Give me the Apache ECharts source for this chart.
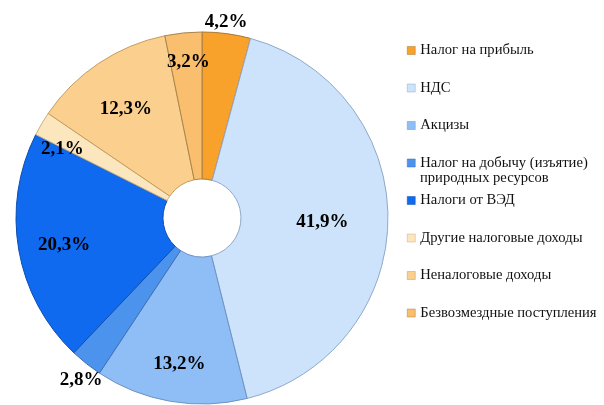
<!DOCTYPE html>
<html>
<head>
<meta charset="utf-8">
<script src="https://cdn.jsdelivr.net/npm/echarts@6/dist/echarts.min.js"></script>
<style>
    html, body { margin: 0; padding: 0; background: #fff; }
    #chart { width: 604px; height: 405px; }
</style>
</head>
<body>
<div id="chart"></div>
<script>
var categories = ['Налог на прибыль', 'НДС', 'Акцизы', 'Налог на добычу (изъятие)',
    'Налоги от ВЭД', 'Другие налоговые доходы', 'Неналоговые доходы', 'Безвозмездные поступления'];
var shares = [4.2, 41.9, 13.2, 2.8, 20.3, 2.1, 12.3, 3.2];
var sliceColors = ['#F8A12B', '#CCE3FB', '#8FBEF7', '#4C93EE', '#0F6AF0', '#FCE6BE', '#FBCF8E', '#F9BE6E'];
var borderColors = ['#A9762F', '#8FA8C8', '#6F92C2', '#3D6FB5', '#0B4EB0', '#C9AE82', '#C49B5C', '#A8844E'];
// label shifts from the default inside position
var labelShift = [[9, -81], [5, 3], [-3, 32], [-49, 72], [-24, 7], [-40, -10], [-12, -13], [-2, -41]];

var myChart = echarts.init(document.getElementById('chart'));

var pieData = [];
for (var i = 0; i < categories.length; i++) {
    pieData.push({
        name: categories[i],
        value: shares[i],
        itemStyle: {
            color: sliceColors[i],
            borderColor: borderColors[i]
        },
        label: {offset: labelShift[i]}
    });
}

var option = {
    animation: false,
    legend: {
        orient: 'vertical',
        left: 407,
        top: 43,
        padding: 0,
        itemWidth: 8,
        itemHeight: 8,
        itemGap: 22.5,
        icon: 'rect',
        data: categories.map(function (c, i) {
            return {name: c, itemStyle: {color: sliceColors[i], borderColor: borderColors[i], borderWidth: 0.5}};
        }),
        textStyle: {
            fontFamily: 'Liberation Serif',
            fontSize: 14.6,
            lineHeight: 15,
            color: '#111'
        }
    },
    graphic: [{
        type: 'text',
        left: 420,
        top: 171,
        style: {
            text: 'природных ресурсов',
            font: '14.6px "Liberation Serif"',
            fill: '#111'
        }
    }],
    series: [{
        type: 'pie',
        center: [202, 218],
        radius: [39, 186],
        startAngle: 90,
        clockwise: true,
        legendHoverLink: false,
        itemStyle: {
            borderWidth: 1
        },
        label: {
            show: true,
            position: 'inside',
            fontFamily: 'Liberation Serif',
            fontWeight: 'bold',
            fontSize: 19,
            color: '#000',
            formatter: function (p) {
                return p.value.toFixed(1).replace('.', ',') + '%';
            }
        },
        labelLine: {show: false},
        data: pieData
    }]
};

myChart.setOption(option);
</script>
</body>
</html>
